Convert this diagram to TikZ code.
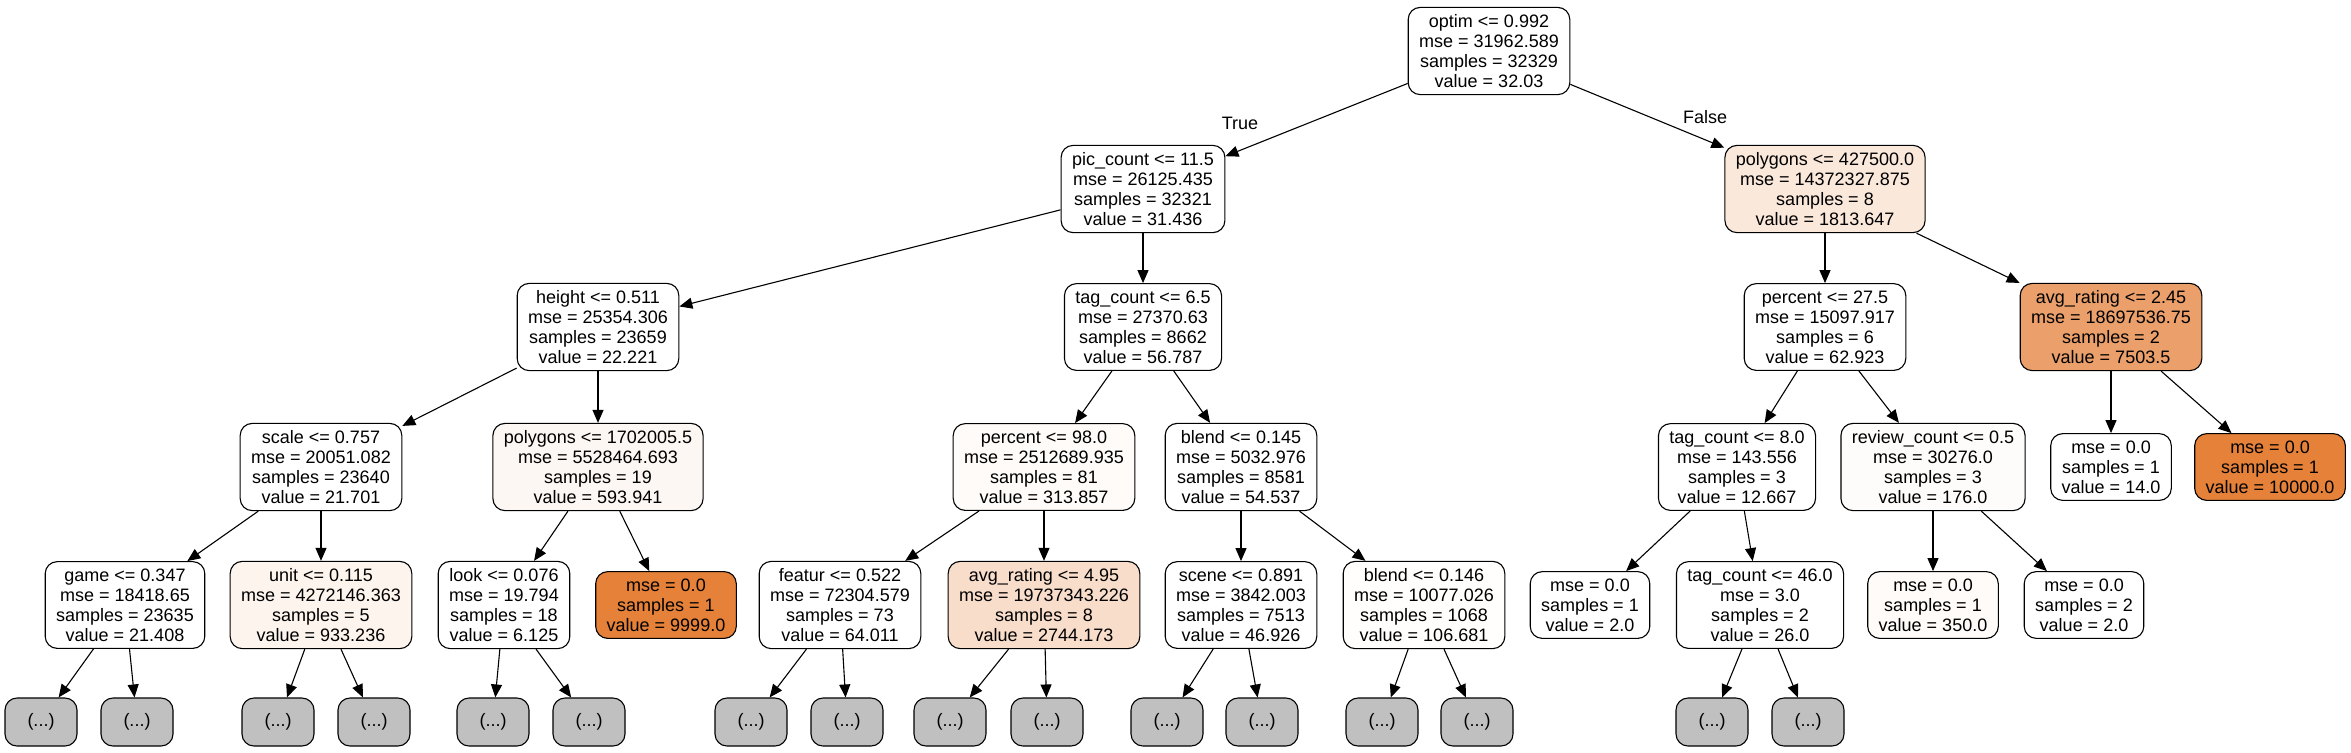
\documentclass[tikz,border=0pt]{standalone}
\usepackage{fontspec}
\setmainfont{Liberation Sans}
\usetikzlibrary{positioning, arrows.meta}
\definecolor{skorange}{RGB}{229,129,57}
\definecolor{cutgray}{RGB}{192,192,192}
\tikzstyle{decision} = [rectangle, draw, rounded corners=6pt, align=center,
inner xsep=5.5pt, inner ysep=3.5pt, line width=0.55pt, font=\fontsize{9}{10}\selectfont]
\tikzstyle{truncated} = [rectangle, draw, fill=cutgray, rounded corners=6pt,
minimum width=36pt, minimum height=24pt, line width=0.55pt, font=\fontsize{9}{10}\selectfont]
\tikzstyle{line} = [draw, line width=0.55pt, -{Triangle[length=6.5pt,width=5.5pt]}]
\tikzstyle{branch} = [font=\fontsize{9}{10}\selectfont]

\begin{document}
\begin{tikzpicture}[x=0.5pt, y=-0.5pt, node distance=69pt]
	\useasboundingbox (0,0) rectangle (2351,752);
	% Root and first split
	\node [decision] (optim) at (1489,51) {optim <= 0.992\\mse = 31962.589\\samples = 32329\\value = 32.03};
	\node [decision] (pic) at (1143,189) {pic\_count <= 11.5\\mse = 26125.435\\samples = 32321\\value = 31.436};
	\node [decision, fill=skorange!18] (polyA) at (1825,189) {polygons <= 427500.0\\mse = 14372327.875\\samples = 8\\value = 1813.647};
	\node [branch] (true) at (1240,123) {True};
	\node [branch] (false) at (1705,117) {False};
	%
	\node [decision] (height) at (598,327) {height <= 0.511\\mse = 25354.306\\samples = 23659\\value = 22.221};
	\node [decision, below of=pic] (tagA) {tag\_count <= 6.5\\mse = 27370.63\\samples = 8662\\value = 56.787};
	\node [decision, below of=polyA] (pctA) {percent <= 27.5\\mse = 15097.917\\samples = 6\\value = 62.923};
	\node [decision, fill=skorange!75] (avgA) at (2111,327) {avg\_rating <= 2.45\\mse = 18697536.75\\samples = 2\\value = 7503.5};
	%
	\node [decision] (scale) at (321,467) {scale <= 0.757\\mse = 20051.082\\samples = 23640\\value = 21.701};
	\node [decision, fill=skorange!6, below of=height, node distance=70pt] (polyB) {polygons <= 1702005.5\\mse = 5528464.693\\samples = 19\\value = 593.941};
	\node [decision, fill=skorange!3] (pctB) at (1044,467) {percent <= 98.0\\mse = 2512689.935\\samples = 81\\value = 313.857};
	\node [decision] (blendA) at (1241,467) {blend <= 0.145\\mse = 5032.976\\samples = 8581\\value = 54.537};
	\node [decision] (tagB) at (1737,467) {tag\_count <= 8.0\\mse = 143.556\\samples = 3\\value = 12.667};
	\node [decision, fill=skorange!2] (review) at (1933,467) {review\_count <= 0.5\\mse = 30276.0\\samples = 3\\value = 176.0};
	\node [decision, below of=avgA, node distance=70pt] (leafA) {mse = 0.0\\samples = 1\\value = 14.0};
	\node [decision, fill=skorange] (leafB) at (2270,467) {mse = 0.0\\samples = 1\\value = 10000.0};
	%
	\node [decision] (game) at (125,605) {game <= 0.347\\mse = 18418.65\\samples = 23635\\value = 21.408};
	\node [decision, fill=skorange!9, below of=scale] (unit) {unit <= 0.115\\mse = 4272146.363\\samples = 5\\value = 933.236};
	\node [decision] (look) at (504,605) {look <= 0.076\\mse = 19.794\\samples = 18\\value = 6.125};
	\node [decision, fill=skorange] (leafC) at (666,605) {mse = 0.0\\samples = 1\\value = 9999.0};
	\node [decision] (featur) at (840,605) {featur <= 0.522\\mse = 72304.579\\samples = 73\\value = 64.011};
	\node [decision, fill=skorange!27, below of=pctB] (avgB) {avg\_rating <= 4.95\\mse = 19737343.226\\samples = 8\\value = 2744.173};
	\node [decision, below of=blendA] (scene) {scene <= 0.891\\mse = 3842.003\\samples = 7513\\value = 46.926};
	\node [decision, fill=skorange!1] (blendB) at (1424,605) {blend <= 0.146\\mse = 10077.026\\samples = 1068\\value = 106.681};
	\node [decision] (leafD) at (1590,605) {mse = 0.0\\samples = 1\\value = 2.0};
	\node [decision] (tagC) at (1760,605) {tag\_count <= 46.0\\mse = 3.0\\samples = 2\\value = 26.0};
	\node [decision, fill=skorange!3, below of=review] (leafE) {mse = 0.0\\samples = 1\\value = 350.0};
	\node [decision] (leafF) at (2084,605) {mse = 0.0\\samples = 2\\value = 2.0};
	%
	\path [line] (optim) -- (pic);
	\path [line] (optim) -- (polyA);
	\path [line] (pic) -- (height);
	\path [line] (pic) -- (tagA);
	\path [line] (polyA) -- (pctA);
	\path [line] (polyA) -- (avgA);
	\path [line] (height) -- (scale);
	\path [line] (height) -- (polyB);
	\path [line] (tagA) -- (pctB);
	\path [line] (tagA) -- (blendA);
	\path [line] (pctA) -- (tagB);
	\path [line] (pctA) -- (review);
	\path [line] (avgA) -- (leafA);
	\path [line] (avgA) -- (leafB);
	\path [line] (scale) -- (game);
	\path [line] (scale) -- (unit);
	\path [line] (polyB) -- (look);
	\path [line] (polyB) -- (leafC);
	\path [line] (pctB) -- (featur);
	\path [line] (pctB) -- (avgB);
	\path [line] (blendA) -- (scene);
	\path [line] (blendA) -- (blendB);
	\path [line] (tagB) -- (leafD);
	\path [line] (tagB) -- (tagC);
	\path [line] (review) -- (leafE);
	\path [line] (review) -- (leafF);
	% cut-off subtrees
	\foreach \parent/\xl/\xr in {game/41/137, unit/278/374, look/493/589, featur/751/847,
		avgB/950/1047, scene/1167/1262, blendB/1382/1477, tagC/1712/1808} {
		\node [truncated] (\parent-l) at (\xl,722) {(...)};
		\node [truncated] (\parent-r) at (\xr,722) {(...)};
		\path [line] (\parent) -- (\parent-l);
		\path [line] (\parent) -- (\parent-r);
	}
\end{tikzpicture}
\end{document}
